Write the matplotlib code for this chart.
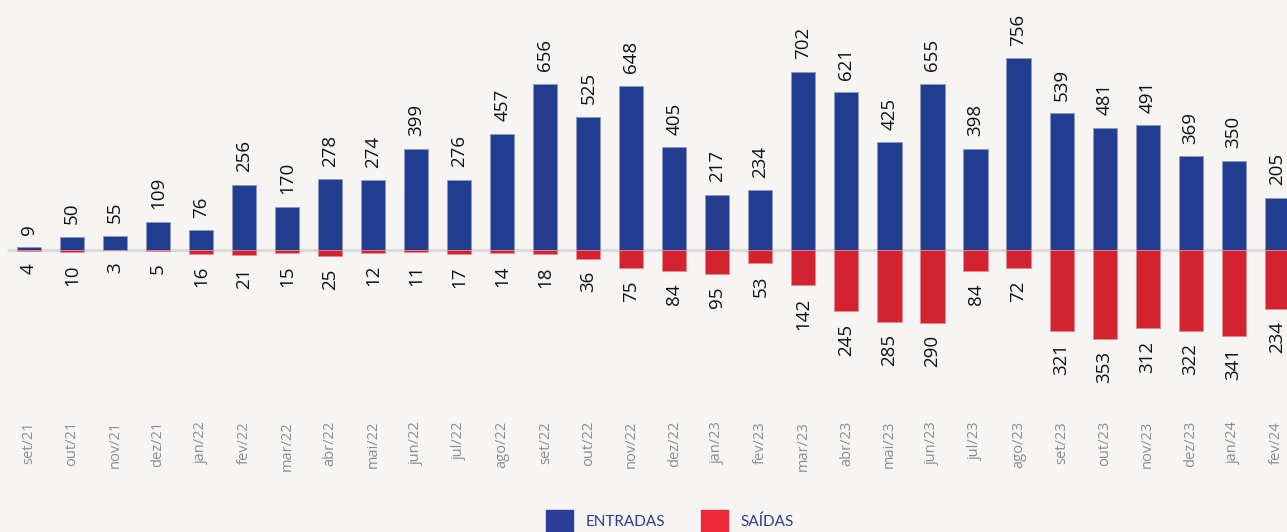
import matplotlib.pyplot as plt
from matplotlib.patches import Patch

# monthly values
MONTHS = ['set/21', 'out/21', 'nov/21', 'dez/21', 'jan/22', 'fev/22', 'mar/22',
          'abr/22', 'mai/22', 'jun/22', 'jul/22', 'ago/22', 'set/22', 'out/22',
          'nov/22', 'dez/22', 'jan/23', 'fev/23', 'mar/23', 'abr/23', 'mai/23',
          'jun/23', 'jul/23', 'ago/23', 'set/23', 'out/23', 'nov/23', 'dez/23',
          'jan/24', 'fev/24']
ENTRADAS = [9, 50, 55, 109, 76, 256, 170, 278, 274, 399, 276, 457, 656, 525,
            648, 405, 217, 234, 702, 621, 425, 655, 398, 756, 539, 481, 491,
            369, 350, 205]
SAIDAS = [4, 10, 3, 5, 16, 21, 15, 25, 12, 11, 17, 14, 18, 36, 75, 84, 95, 53,
          142, 245, 285, 290, 84, 72, 321, 353, 312, 322, 341, 234]

BG = '#f6f5f3'
BLUE = '#233e91'
RED = '#d42330'

plt.rcParams['font.family'] = ['Open Sans', 'DejaVu Sans']

fig = plt.figure(figsize=(12.87, 5.32), dpi=100, facecolor=BG)
ax = fig.add_axes([0, 0, 1, 1])
ax.set_facecolor(BG)

x = list(range(len(MONTHS)))
ax.hlines(0, -0.51, 30, color='#d9d9d9', linewidth=2, zorder=1)
ax.bar(x, ENTRADAS, width=0.56, color=BLUE, edgecolor='#8d9ac4',
       linewidth=0.6, zorder=2)
ax.bar(x, [-v for v in SAIDAS], width=0.56, color=RED, edgecolor='#e58a90',
       linewidth=0.6, zorder=2)

for i, (e, s) in enumerate(zip(ENTRADAS, SAIDAS)):
    ax.annotate(str(e), (i, e), xytext=(0, 9), textcoords='offset points',
                rotation=90, ha='center', va='bottom', fontsize=13.5,
                color='#111111')
    ax.annotate(str(s), (i, -s), xytext=(0, -9), textcoords='offset points',
                rotation=90, ha='center', va='top', fontsize=13.5,
                color='#111111')
    ax.text(i, 0.2086, MONTHS[i], transform=ax.get_xaxis_transform(),
            rotation=90, ha='center', va='top', fontsize=10.5, color='#8c8c8c')

ax.set_xlim(-0.674, 29.24)
ax.set_ylim(-1117, 986.6)
ax.axis('off')

handles = [Patch(color='#2b3d96', label='ENTRADAS'),
           Patch(color='#ee2a3a', label='SAÍDAS')]
fig.legend(handles=handles, loc='center', bbox_to_anchor=(670 / 1287, 11 / 532),
           ncol=2, frameon=False, labelcolor='#2b3d96',
           handlelength=1.75, handleheight=1.75, handletextpad=0.8,
           columnspacing=2.4, prop={'family': 'Lato', 'size': 11})

fig.savefig('out.png', dpi=100, facecolor=BG)
